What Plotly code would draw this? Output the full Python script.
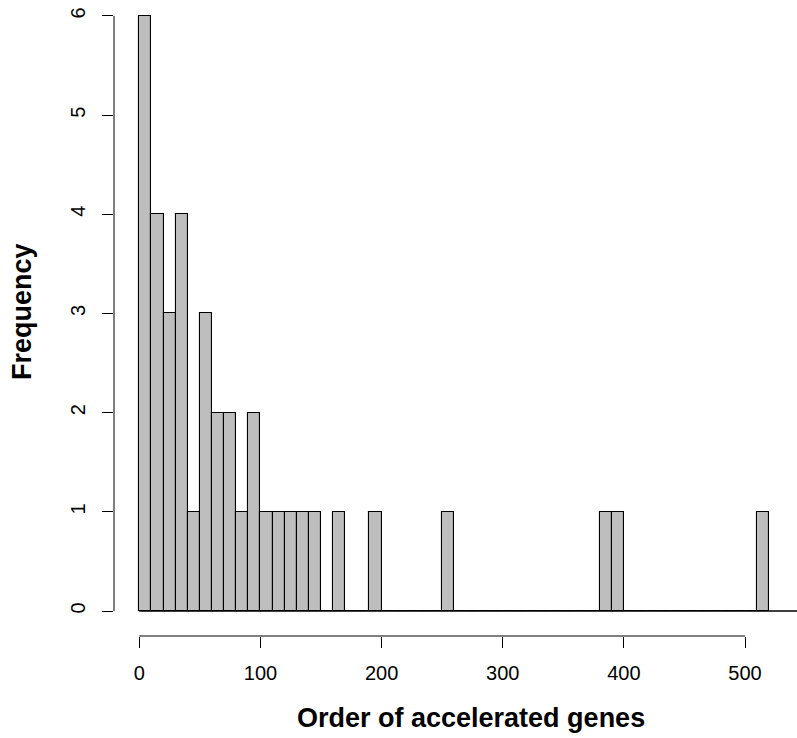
import numpy as np
import plotly.graph_objects as go

# Histogram of gene order positions, bins of width 10
bin_width = 10
bin_start = 0
counts = [6, 4, 3, 4, 1, 3, 2, 2, 1, 2,
          1, 1, 1, 1, 1, 0, 1, 0, 0, 1,
          0, 0, 0, 0, 0, 1, 0, 0, 0, 0,
          0, 0, 0, 0, 0, 0, 0, 0, 1, 1,
          0, 0, 0, 0, 0, 0, 0, 0, 0, 0,
          0, 1]
x_ticks = [0, 100, 200, 300, 400, 500]
y_ticks = [0, 1, 2, 3, 4, 5, 6]
x_title = "Order of accelerated genes"
y_title = "Frequency"

edges = bin_start + bin_width * np.arange(len(counts) + 1)
centers = (edges[:-1] + edges[1:]) / 2

W, H = 797, 738
L, R, T, B = 114, 0, 0, 102
plot_w = W - L - R
plot_h = H - T - B

x_range = [-20.9, 542.9]
y_range = [-0.252, 6.161]

FONT = "Liberation Sans, Arial, Helvetica, sans-serif"

fig = go.Figure()
fig.add_trace(go.Bar(
    x=centers, y=counts, width=bin_width,
    marker=dict(color="#BEBEBE", line=dict(color="black", width=1.1)),
    hoverinfo="x+y",
))

# baseline drawn by the empty bins
fig.add_shape(type="line", xref="x", yref="y",
              x0=edges[0], x1=x_range[1], y0=0, y1=0,
              line=dict(color="black", width=1.3))
# detached axis lines spanning first to last tick
fig.add_shape(type="line", xref="x", yref="paper",
              x0=x_ticks[0], x1=x_ticks[-1], y0=0, y1=0,
              line=dict(color="black", width=1))
fig.add_shape(type="line", xref="paper", yref="y",
              x0=0, x1=0, y0=y_ticks[0], y1=y_ticks[-1],
              line=dict(color="black", width=1))

fig.update_xaxes(range=x_range, tickvals=x_ticks, ticks="outside",
                 ticklen=11, tickwidth=1, tickcolor="black",
                 showline=False, showgrid=False, zeroline=False,
                 tickfont=dict(family=FONT, size=20, color="black"),
                 ticklabelstandoff=8)
fig.update_yaxes(range=y_range, tickvals=y_ticks, ticks="outside",
                 ticklen=11, tickwidth=1, tickcolor="black",
                 showline=False, showgrid=False, zeroline=False,
                 tickangle=-90,
                 tickfont=dict(family=FONT, size=20, color="black"),
                 ticklabelstandoff=9)

fig.add_annotation(text=x_title, xref="paper", yref="paper",
                   x=(471 - L) / plot_w, y=-(718 - plot_h) / plot_h,
                   xanchor="center", yanchor="middle", showarrow=False,
                   font=dict(family=FONT, size=27, color="black", weight="bold"))
fig.add_annotation(text=y_title, xref="paper", yref="paper",
                   x=(22 - L) / plot_w, y=(plot_h - 312) / plot_h,
                   xanchor="center", yanchor="middle", showarrow=False,
                   textangle=-90,
                   font=dict(family=FONT, size=27, color="black", weight="bold"))

fig.update_layout(width=W, height=H,
                  margin=dict(l=L, r=R, t=T, b=B, pad=0),
                  plot_bgcolor="white", paper_bgcolor="white",
                  showlegend=False, bargap=0)

fig.write_html("out.html")
